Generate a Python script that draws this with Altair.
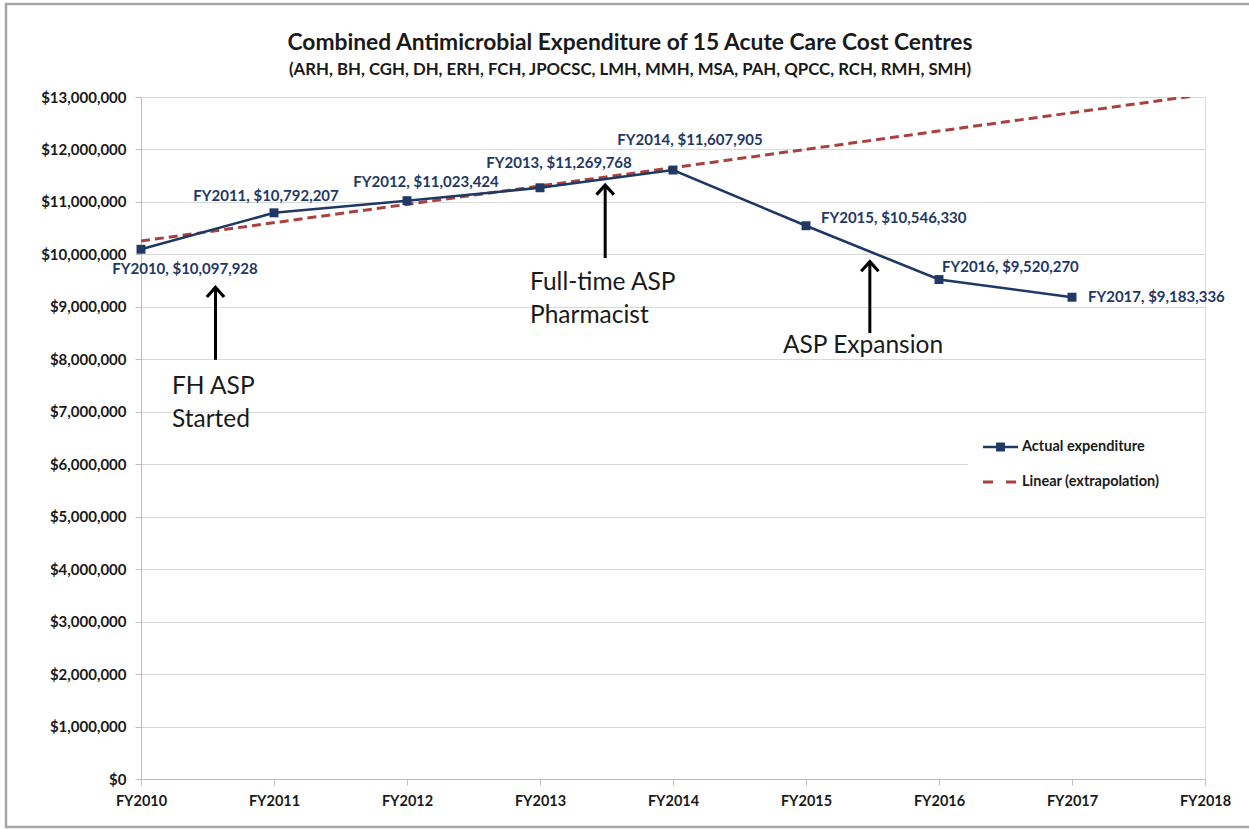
import json
import altair as alt
import pandas as pd

# ---------------- data ----------------
title_text = "Combined Antimicrobial Expenditure of 15 Acute Care Cost Centres"
subtitle_text = "(ARH, BH, CGH, DH, ERH, FCH, JPOCSC, LMH, MMH, MSA, PAH, QPCC, RCH, RMH, SMH)"

years = ["FY2010", "FY2011", "FY2012", "FY2013", "FY2014",
         "FY2015", "FY2016", "FY2017", "FY2018"]
actual_years = ["FY2010", "FY2011", "FY2012", "FY2013", "FY2014",
                "FY2015", "FY2016", "FY2017"]
actual_values = [10097928, 10792207, 11023424, 11269768, 11607905,
                 10546330, 9520270, 9183336]
trend_years = ["FY2010", "FY2018"]
trend_values = [10255000, 13050000]

annot_texts = [["FH ASP", "Started"], ["Full-time ASP", "Pharmacist"], ["ASP Expansion"]]
annot_x = [0.233, 2.925, 4.827]
annot_y = [7340000, 9330000, 8120000]
arrow_x = [0.56, 3.49, 5.48]
arrow_top = [9370000, 11320000, 9860000]
arrow_bottom = [7990000, 9930000, 8500000]

legend_names = ["Actual expenditure", "Linear (extrapolation)"]

# ---------------- styling ----------------
FONT = "Lato"
NAVY = "#1F3864"
RED = "#A8423F"
W, H = 1064, 682

actual = pd.DataFrame({
    "year": actual_years,
    "i": [years.index(y) for y in actual_years],
    "value": actual_values,
})
actual["label"] = [f"{y}, ${v:,}" for y, v in zip(actual_years, actual_values)]

trend = pd.DataFrame({
    "year": trend_years,
    "i": [years.index(y) for y in trend_years],
    "value": trend_values,
})

arrows = pd.DataFrame({"x": arrow_x, "top": arrow_top, "bottom": arrow_bottom})
annots = pd.DataFrame({"x": annot_x, "y": annot_y, "text": annot_texts})

label_expr = json.dumps(years) + "[datum.value]"

x_scale = alt.Scale(domain=[0, len(years) - 1], nice=False, zero=False)
x_enc = alt.X(
    "i:Q",
    scale=x_scale,
    axis=alt.Axis(
        title=None, values=list(range(len(years))), labelExpr=label_expr,
        grid=False, tickSize=6, tickColor="#BFBFBF", domainColor="#BFBFBF",
        labelFont=FONT, labelFontWeight="bold", labelFontSize=14.5,
        labelColor="#1a1a1a", labelPadding=9, labelFlush=False,
    ),
)
y_scale = alt.Scale(domain=[0, 13000000], nice=False)
y_enc = alt.Y(
    "value:Q", scale=y_scale,
    axis=alt.Axis(
        title=None, values=list(range(0, 13000001, 1000000)), format="$,.0f",
        gridColor="#D9D9D9", tickSize=6, tickColor="#BFBFBF", domainColor="#BFBFBF",
        labelFont=FONT, labelFontWeight="bold", labelFontSize=15,
        labelColor="#1a1a1a", labelPadding=9, labelFlush=False,
    ),
)

base = alt.Chart(actual)

trend_line = alt.Chart(trend).mark_line(
    color=RED, strokeWidth=3, strokeDash=[9, 5], clip=True
).encode(x=x_enc, y=y_enc)

actual_line = base.mark_line(color=NAVY, strokeWidth=2.6).encode(x="i:Q", y="value:Q")
actual_pts = base.mark_point(
    shape="square", filled=True, size=80, color=NAVY, opacity=1
).encode(x="i:Q", y="value:Q")

label_specs = {
    "FY2010": dict(align="center", dx=44, dy=20),
    "FY2011": dict(align="center", dx=-8, dy=-17),
    "FY2012": dict(align="center", dx=19, dy=-19),
    "FY2013": dict(align="center", dx=19, dy=-25),
    "FY2014": dict(align="center", dx=17, dy=-30),
    "FY2015": dict(align="left", dx=15, dy=-8),
    "FY2016": dict(align="left", dx=3, dy=-13),
    "FY2017": dict(align="left", dx=16, dy=0),
}
label_layers = []
for yr, spec in label_specs.items():
    label_layers.append(
        base.transform_filter(alt.datum.year == yr).mark_text(
            font=FONT, fontWeight="bold", fontSize=15, color=NAVY,
            baseline="middle", **spec
        ).encode(x="i:Q", y="value:Q", text="label:N")
    )

arrow_shafts = alt.Chart(arrows).mark_rule(color="black", strokeWidth=3).encode(
    x=alt.X("x:Q", scale=x_scale), y=alt.Y("top:Q", scale=y_scale), y2="bottom:Q"
)
arrow_heads = alt.Chart(arrows).mark_point(
    shape="M-1,1.1L0,0L1,1.1", filled=False, stroke="black",
    strokeWidth=3.2, size=300, opacity=1, strokeCap="butt", strokeJoin="miter",
).encode(x=alt.X("x:Q", scale=x_scale), y=alt.Y("top:Q", scale=y_scale))

annot_text = alt.Chart(annots).mark_text(
    font=FONT, fontSize=24.5, color="#1a1a1a", align="left",
    baseline="alphabetic", lineHeight=33,
).encode(x=alt.X("x:Q", scale=x_scale), y=alt.Y("y:Q", scale=y_scale), text="text")

# ---------------- manual legend ----------------
one = pd.DataFrame({"k": [0]})
leg_bg = alt.Chart(one).mark_rect(fill="white").encode(
    x=alt.value(827), x2=alt.value(W), y=alt.value(330), y2=alt.value(402)
)
leg_line1 = alt.Chart(one).mark_rule(color=NAVY, strokeWidth=2.6).encode(
    x=alt.value(842), x2=alt.value(877), y=alt.value(350)
)
leg_pt1 = alt.Chart(one).mark_point(
    shape="square", filled=True, size=80, color=NAVY, opacity=1
).encode(x=alt.value(859.5), y=alt.value(350))
leg_line2 = alt.Chart(one).mark_rule(color=RED, strokeWidth=3, strokeDash=[10, 13]).encode(
    x=alt.value(842), x2=alt.value(877), y=alt.value(385)
)
leg_text_layers = []
for name, ypix in zip(legend_names, [350, 385]):
    leg_text_layers.append(
        alt.Chart(pd.DataFrame({"name": [name]})).mark_text(
            font=FONT, fontWeight="bold", fontSize=14.5, color="#1a1a1a",
            align="left", baseline="middle",
        ).encode(x=alt.value(881), y=alt.value(ypix), text="name:N")
    )

# ---------------- title texts ----------------
title_layers = []
for txt, size, ypix in [(title_text, 22.8, -54), (subtitle_text, 16.8, -27)]:
    title_layers.append(
        alt.Chart(pd.DataFrame({"t": [txt]})).mark_text(
            font=FONT, fontWeight="bold", fontSize=size, color="#1a1a1a",
            align="center", baseline="middle",
        ).encode(x=alt.value(489), y=alt.value(ypix), text="t:N")
    )

border = alt.Chart(one).mark_rect(
    fillOpacity=0, stroke="#A6A6A6", strokeWidth=2.5
).encode(x=alt.value(-135), x2=alt.value(W + 60), y=alt.value(-93), y2=alt.value(H + 48))

chart = alt.layer(
    trend_line, actual_line, actual_pts, *label_layers,
    arrow_shafts, arrow_heads, annot_text,
    leg_bg, leg_line1, leg_pt1, leg_line2, *leg_text_layers,
    *title_layers, border,
).properties(
    width=W, height=H,
    autosize=alt.AutoSizeParams(type="none"),
    padding={"left": 141, "top": 97, "right": 44, "bottom": 50},
).configure_view(stroke=None).configure(background="white")

chart.save("out.html", embed_options={"renderer": "svg", "actions": False})
